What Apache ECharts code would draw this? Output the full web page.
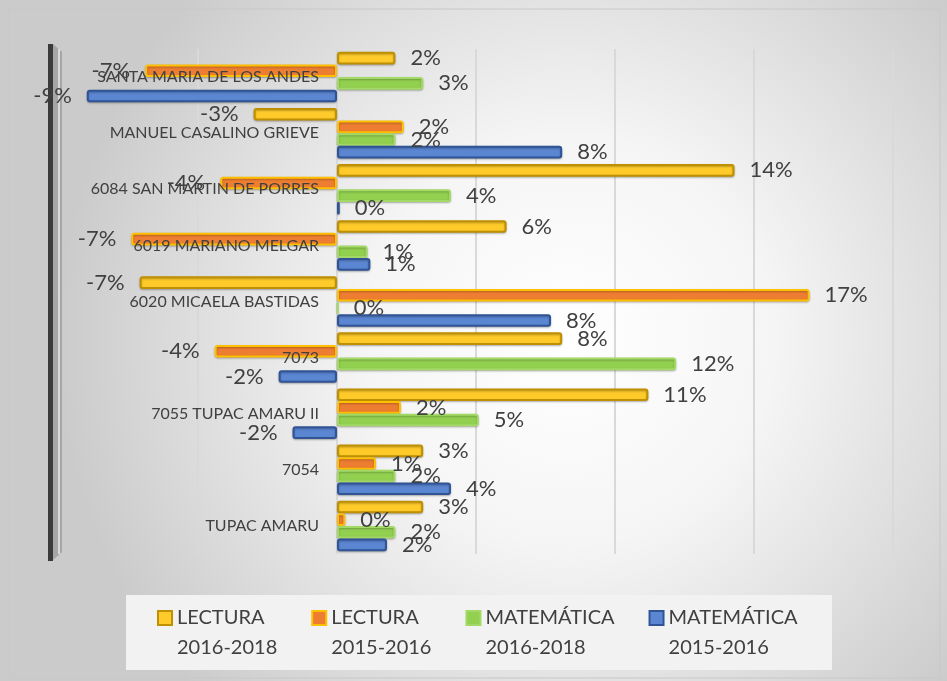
<!DOCTYPE html>
<html>
<head>
<meta charset="utf-8">
<script src="https://cdn.jsdelivr.net/npm/echarts@6/dist/echarts.min.js"></script>
<style>
  html, body { margin: 0; padding: 0; background: #d6d6d6; }
  #main { width: 947px; height: 681px; }
</style>
</head>
<body>
<div id="main"></div>
<script>
var categories = ['SANTA MARIA DE LOS ANDES', 'MANUEL CASALINO GRIEVE', '6084 SAN MARTIN DE PORRES',
    '6019 MARIANO MELGAR', '6020 MICAELA BASTIDAS', '7073', '7055 TUPAC AMARU II', '7054', 'TUPAC AMARU'];

// valores en %
var lectura1618 = [2.1, -3.0, 14.3, 6.1, -7.1, 8.1, 11.2, 3.1, 3.1];
var lectura1516 = [-6.9, 2.4, -4.2, -7.4, 17.0, -4.4, 2.3, 1.4, 0.3];
var mate1618 = [3.1, 2.1, 4.1, 1.1, 0.05, 12.2, 5.1, 2.1, 2.1];
var mate1516 = [-9.0, 8.1, 0.1, 1.2, 7.7, -2.1, -1.6, 4.1, 1.8];

var seriesNames = ['LECTURA\n2016-2018', 'LECTURA\n2015-2016', 'MATEMÁTICA\n2016-2018', 'MATEMÁTICA\n2015-2016'];

var xMin = -10, xMax = 20;
var gridLeft = 59, gridRight = 54;
var gridWidth = 947 - gridLeft - gridRight;
// el eje de categorias va sobre el 0
var zeroOffset = gridWidth * (0 - xMin) / (xMax - xMin);

var chart = echarts.init(document.getElementById('main'));

function toData(arr) {
    var out = [];
    for (var i = 0; i < arr.length; i++) {
        out.push({
            value: arr[i],
            label: { position: arr[i] < 0 ? 'left' : 'right' }
        });
    }
    return out;
}

function makeSeries(name, arr, fill, border) {
    return {
        name: name,
        type: 'bar',
        data: toData(arr),
        barGap: '0%',
        barCategoryGap: '10%',
        itemStyle: {
            color: fill,
            borderColor: border,
            borderWidth: 2,
            borderRadius: 2,
            shadowBlur: 2,
            shadowColor: 'rgba(0,0,0,0.25)',
            shadowOffsetY: 1
        },
        label: {
            show: true,
            distance: 15,
            color: '#404040',
            fontFamily: 'Lato',
            fontSize: 22,
            formatter: function (p) {
                return Math.round(p.value) + '%';
            }
        }
    };
}

chart.setOption({
    backgroundColor: {
        type: 'radial', x: 0.6, y: 0.5, r: 0.75,
        colorStops: [
            { offset: 0, color: '#ffffff' },
            { offset: 0.4, color: '#f5f5f5' },
            { offset: 1, color: '#cbcbcb' }
        ]
    },
    textStyle: { fontFamily: 'Lato' },
    graphic: [
        // marco
        { type: 'rect', z: -10, shape: { x: 8, y: 9, width: 932, height: 669 },
          style: { fill: 'none', stroke: '#c8c8c8', lineWidth: 1 } },
        // pared izquierda
        { type: 'polygon', z: 0, shape: { points: [[53, 44], [62, 52], [62, 552], [53, 560]] },
          style: { fill: '#a6a6a6' } },
        { type: 'rect', z: 0, shape: { x: 48, y: 44, width: 5, height: 517 },
          style: { fill: '#3a3a3a' } },
        // fondo leyenda
        { type: 'rect', z: 0, shape: { x: 126, y: 595, width: 706, height: 75 },
          style: { fill: '#f2f2f2' } }
    ],
    legend: {
        data: seriesNames,
        left: 157,
        top: 573,
        padding: 0,
        itemWidth: 14,
        itemHeight: 14,
        itemGap: 34,
        icon: 'rect',
        formatter: function (name) {
            return '\n' + name;
        },
        textStyle: {
            color: '#404040',
            fontFamily: 'Lato',
            fontSize: 20,
            lineHeight: 30
        }
    },
    grid: {
        left: gridLeft,
        right: gridRight,
        top: 49,
        bottom: 127,
        outerBoundsMode: 'none',
        containLabel: false
    },
    xAxis: {
        type: 'value',
        min: xMin,
        max: xMax,
        interval: 5,
        axisLabel: { show: false },
        axisLine: { show: false },
        axisTick: { show: false },
        splitLine: { show: true, lineStyle: { color: '#d9d9d9', width: 2 } }
    },
    yAxis: {
        type: 'category',
        inverse: true,
        position: 'left',
        offset: -zeroOffset,
        z: 5,
        data: categories,
        axisLine: { show: false, onZero: false },
        axisTick: { show: false },
        axisLabel: {
            color: '#404040',
            fontFamily: 'Lato',
            fontSize: 16,
            margin: 18
        }
    },
    series: [
        makeSeries(seriesNames[0], lectura1618, '#FFCB2B', '#BF9000'),
        makeSeries(seriesNames[1], lectura1516, '#ED7D31', '#FFC000'),
        makeSeries(seriesNames[2], mate1618, '#92D050', '#A3DA66'),
        makeSeries(seriesNames[3], mate1516, '#5B86D2', '#2F5597')
    ]
});
</script>
</body>
</html>
